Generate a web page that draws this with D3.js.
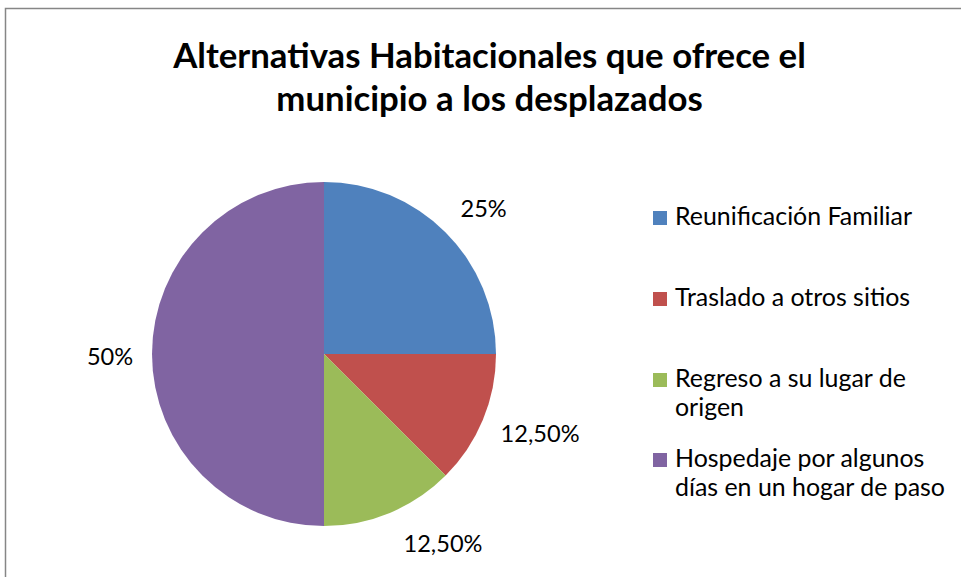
<!DOCTYPE html>
<html>
<head>
<meta charset="utf-8">
<script src="https://cdn.jsdelivr.net/npm/d3@7"></script>
<style>
html,body{margin:0;padding:0;background:#fff;}
svg{display:block;}
text{font-family:"Lato","Open Sans",sans-serif;fill:#000;}
</style>
</head>
<body>
<svg id="chart" width="961" height="577"></svg>
<script>
const categories = ["Reunificación Familiar","Traslado a otros sitios","Regreso a su lugar de origen","Hospedaje por algunos días en un hogar de paso"];
const legendLines = [["Reunificación Familiar"],["Traslado a otros sitios"],["Regreso a su lugar de","origen"],["Hospedaje por algunos","días en un hogar de paso"]];
const values = [25, 12.5, 12.5, 50];
const valueLabels = ["25%","12,50%","12,50%","50%"];
const colors = ["#4f81bd","#c0504d","#9bbb59","#8064a2"];
const titleLines = ["Alternativas Habitacionales que ofrece el","municipio a los desplazados"];

const svg = d3.select("#chart");
function fit(sel, w){ const l = sel.node().getComputedTextLength(); const fs = parseFloat(sel.attr("font-size")); sel.attr("font-size", fs*w/l); }

// border
svg.append("rect").attr("x",5.5).attr("y",8.5).attr("width",970).attr("height",600)
  .attr("fill","#fff").attr("stroke","#868686").attr("stroke-width",1.5);

// title
const t1 = svg.append("text").attr("x",489.5).attr("y",68).attr("text-anchor","middle")
  .attr("font-weight","bold").attr("font-size",30).text(titleLines[0]);
fit(t1, 633);
const fsT = t1.attr("font-size");
svg.append("text").attr("x",489.5).attr("y",111).attr("text-anchor","middle")
  .attr("font-weight","bold").attr("font-size",fsT).text(titleLines[1]);

// pie
const cx = 324, cy = 354, r = 172;
const pie = d3.pie().sort(null).value(d=>d)(values);
const arc = d3.arc().innerRadius(0).outerRadius(r);
const g = svg.append("g").attr("transform",`translate(${cx},${cy})`);
g.selectAll("path").data(pie).enter().append("path")
  .attr("d",arc).attr("fill",(d,i)=>colors[i]);

// labels outside
const probeL = svg.append("text").attr("font-size",20).text(valueLabels[1]);
fit(probeL, 79); const labFs = +probeL.attr("font-size"); probeL.remove();
const labelArc = d3.arc().innerRadius(r+24).outerRadius(r+24);
const labelOffsets = [[21,-7],[35,4],[44,8],[-18,2]];
pie.forEach((d,i)=>{
  const [x,y] = labelArc.centroid(d);
  g.append("text").attr("x",x+labelOffsets[i][0]).attr("y",y+labelOffsets[i][1])
    .attr("text-anchor","middle").attr("dominant-baseline","central")
    .attr("font-size",labFs).attr("fill","#000").text(valueLabels[i]);
});

// legend
const legY = [225, 306, 387, 467];
const probe = svg.append("text").attr("font-size",20).text(legendLines[0][0]);
fit(probe, 237); const legFs = +probe.attr("font-size"); probe.remove();
categories.forEach((c,i)=>{
  svg.append("rect").attr("x",653).attr("y",legY[i]-14).attr("width",14).attr("height",14).attr("fill",colors[i]);
  legendLines[i].forEach((ln,j)=>{
    svg.append("text").attr("x",675).attr("y",legY[i]+j*29).attr("font-size",legFs).attr("fill","#000").text(ln);
  });
});
</script>
</body>
</html>
